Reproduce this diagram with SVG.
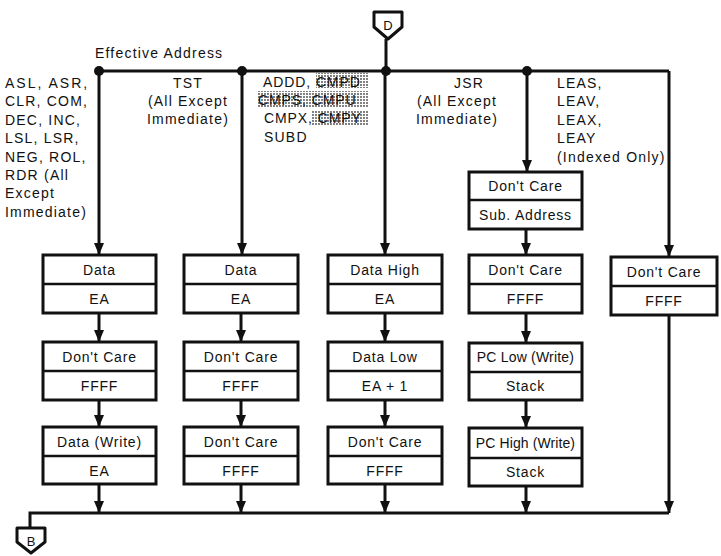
<svg xmlns="http://www.w3.org/2000/svg" width="721" height="556" viewBox="0 0 721 556">
<style>
text{font-family:"Liberation Sans",Arial,sans-serif;font-size:14px;fill:#111;letter-spacing:0.8px}
.lb text{letter-spacing:1.2px}
.c{text-anchor:middle}
.box{fill:#fff;stroke:#111;stroke-width:3}
.div{stroke:#111;stroke-width:2.5}
.ln{fill:none;stroke:#111;stroke-width:3}
.arr{fill:none;stroke:#111;stroke-width:3;marker-end:url(#ah)}
.dot{fill:#111}
.conn{fill:#fff;stroke:#111;stroke-width:3;stroke-linejoin:round}
</style>
<defs>
<marker id="ah" markerUnits="userSpaceOnUse" viewBox="0 0 12 10" refX="12" refY="5" markerWidth="12" markerHeight="10" orient="auto">
<path d="M0,0 L12,5 L0,10 z" fill="#111"/>
</marker>
<pattern id="stip" width="3" height="3" patternUnits="userSpaceOnUse">
<rect width="3" height="3" fill="#fff"/>
<circle cx="1" cy="1" r="0.9" fill="#444"/>
</pattern>
</defs>
<rect width="721" height="556" fill="#fff"/>

<g id="connectors">
<path class="ln" d="M386,39 V71"/>
<path class="ln" d="M99,71 H669"/>
<path class="arr" d="M99,71 V255"/>
<path class="arr" d="M242,71 V255"/>
<path class="arr" d="M385,71 V255"/>
<path class="arr" d="M527,71 V172"/>
<path class="arr" d="M669,71 V257"/>
<path class="arr" d="M99,313 V342"/>
<path class="arr" d="M99,400 V427"/>
<path class="arr" d="M241,313 V342"/>
<path class="arr" d="M241,400 V427"/>
<path class="arr" d="M385,313 V342"/>
<path class="arr" d="M385,400 V427"/>
<path class="arr" d="M526,229 V255"/>
<path class="arr" d="M526,313 V343"/>
<path class="arr" d="M526,400 V428"/>
<path class="arr" d="M99,484 V513"/>
<path class="arr" d="M241,484 V513"/>
<path class="arr" d="M385,484 V513"/>
<path class="arr" d="M526,486 V513"/>
<path class="arr" d="M669,315 V513"/>
<path class="ln" d="M669,513 H30 V528"/>
<circle class="dot" cx="99" cy="71" r="5"/>
<circle class="dot" cx="242" cy="71" r="5"/>
<circle class="dot" cx="386" cy="71" r="5"/>
<circle class="dot" cx="527" cy="71" r="5"/>
</g>

<g id="offpage-D">
<path class="conn" d="M374,12 H402 V27 L388,39 L374,27 Z"/>
<text class="c" x="388" y="30" style="font-size:13px;letter-spacing:0">D</text>
</g>
<g id="offpage-B">
<path class="conn" d="M17,528 H45 V542 L31,553 L17,542 Z"/>
<text class="c" x="31" y="546" style="font-size:13px;letter-spacing:0">B</text>
</g>

<g id="labels" class="lb">
<text x="95" y="58">Effective Address</text>
<g id="label-asl">
<text x="5" y="87.5" style="letter-spacing:2px">ASL, ASR,</text>
<text x="5" y="106">CLR, COM,</text>
<text x="5" y="124.5">DEC, INC,</text>
<text x="5" y="143">LSL, LSR,</text>
<text x="5" y="161.5">NEG, ROL,</text>
<text x="5" y="180">RDR (All</text>
<text x="5" y="198">Except</text>
<text x="5" y="216.5">Immediate)</text>
</g>
<g id="label-tst">
<text class="c" x="188" y="88">TST</text>
<text class="c" x="188" y="106">(All Except</text>
<text class="c" x="188" y="124">Immediate)</text>
</g>
<g id="label-addd">
<rect x="316" y="73" width="52" height="15" fill="url(#stip)"/>
<rect x="257" y="91" width="111" height="16" fill="url(#stip)"/>
<rect x="311" y="110" width="57" height="15" fill="url(#stip)"/>
<text x="263" y="87" style="letter-spacing:0.9px">ADDD, CMPD</text>
<text x="258" y="105" style="letter-spacing:0.9px">CMPS, CMPU</text>
<text x="264" y="123" style="letter-spacing:0.9px">CMPX, CMPY</text>
<text x="264" y="142">SUBD</text>
</g>
<g id="label-jsr">
<text class="c" x="469" y="88">JSR</text>
<text class="c" x="457" y="106">(All Except</text>
<text class="c" x="457" y="124">Immediate)</text>
</g>
<g id="label-lea">
<text x="557" y="87.5">LEAS,</text>
<text x="557" y="106">LEAV,</text>
<text x="557" y="124.5">LEAX,</text>
<text x="557" y="143">LEAY</text>
<text x="557" y="162">(Indexed Only)</text>
</g>
</g>

<g id="c1-b1"><rect class="box" x="43" y="255" width="113" height="58"/><line class="div" x1="43" y1="284" x2="156" y2="284"/><text class="c" x="99.5" y="275">Data</text><text class="c" x="99.5" y="304">EA</text></g>
<g id="c1-b2"><rect class="box" x="43" y="342" width="113" height="58"/><line class="div" x1="43" y1="371" x2="156" y2="371"/><text class="c" x="99.5" y="362">Don't Care</text><text class="c" x="99.5" y="391">FFFF</text></g>
<g id="c1-b3"><rect class="box" x="43" y="427" width="113" height="57"/><line class="div" x1="43" y1="456" x2="156" y2="456"/><text class="c" x="99.5" y="447">Data (Write)</text><text class="c" x="99.5" y="476">EA</text></g>

<g id="c2-b1"><rect class="box" x="184" y="255" width="114" height="58"/><line class="div" x1="184" y1="284" x2="298" y2="284"/><text class="c" x="241" y="275">Data</text><text class="c" x="241" y="304">EA</text></g>
<g id="c2-b2"><rect class="box" x="184" y="342" width="114" height="58"/><line class="div" x1="184" y1="371" x2="298" y2="371"/><text class="c" x="241" y="362">Don't Care</text><text class="c" x="241" y="391">FFFF</text></g>
<g id="c2-b3"><rect class="box" x="184" y="427" width="114" height="57"/><line class="div" x1="184" y1="456" x2="298" y2="456"/><text class="c" x="241" y="447">Don't Care</text><text class="c" x="241" y="476">FFFF</text></g>

<g id="c3-b1"><rect class="box" x="328" y="255" width="114" height="58"/><line class="div" x1="328" y1="284" x2="442" y2="284"/><text class="c" x="385" y="275">Data High</text><text class="c" x="385" y="304">EA</text></g>
<g id="c3-b2"><rect class="box" x="328" y="342" width="114" height="58"/><line class="div" x1="328" y1="371" x2="442" y2="371"/><text class="c" x="385" y="362">Data Low</text><text class="c" x="385" y="391">EA + 1</text></g>
<g id="c3-b3"><rect class="box" x="328" y="427" width="114" height="57"/><line class="div" x1="328" y1="456" x2="442" y2="456"/><text class="c" x="385" y="447">Don't Care</text><text class="c" x="385" y="476">FFFF</text></g>

<g id="c4-b0"><rect class="box" x="469" y="172" width="113" height="57"/><line class="div" x1="469" y1="200" x2="582" y2="200"/><text class="c" x="525.5" y="191">Don't Care</text><text class="c" x="525.5" y="220">Sub. Address</text></g>
<g id="c4-b1"><rect class="box" x="469" y="255" width="113" height="58"/><line class="div" x1="469" y1="284" x2="582" y2="284"/><text class="c" x="525.5" y="275">Don't Care</text><text class="c" x="525.5" y="304">FFFF</text></g>
<g id="c4-b2"><rect class="box" x="469" y="343" width="113" height="57"/><line class="div" x1="469" y1="372" x2="582" y2="372"/><text class="c" x="525.5" y="362" style="letter-spacing:0.2px">PC Low (Write)</text><text class="c" x="525.5" y="391">Stack</text></g>
<g id="c4-b3"><rect class="box" x="469" y="428" width="113" height="58"/><line class="div" x1="469" y1="458" x2="582" y2="458"/><text class="c" x="525.5" y="448" style="letter-spacing:0.1px">PC High (Write)</text><text class="c" x="525.5" y="477">Stack</text></g>

<g id="c5-b1"><rect class="box" x="611" y="257" width="106" height="58"/><line class="div" x1="611" y1="286" x2="717" y2="286"/><text class="c" x="664" y="277">Don't Care</text><text class="c" x="664" y="306">FFFF</text></g>
</svg>
